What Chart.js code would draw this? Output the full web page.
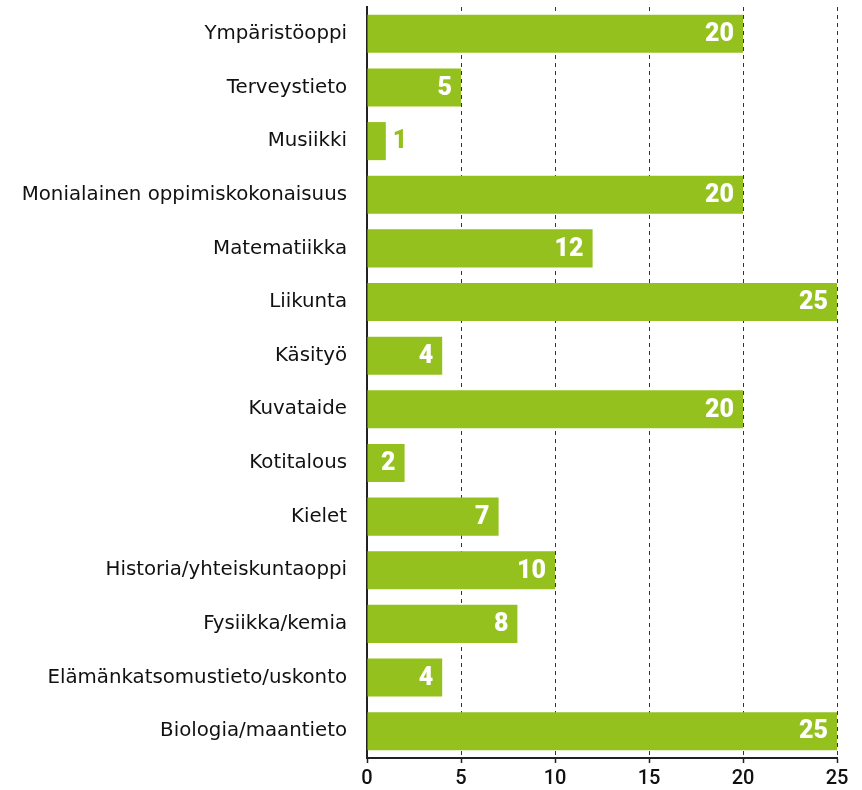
<!DOCTYPE html>
<html>
<head>
<meta charset="utf-8">
<script src="https://cdn.jsdelivr.net/npm/chart.js@4/dist/chart.umd.min.js"></script>
<style>
  html, body { margin: 0; padding: 0; background: #fff; }
</style>
</head>
<body>
<canvas id="myChart" width="862" height="790"></canvas>
<script>
// data, top to bottom
const categories = ['Ympäristöoppi', 'Terveystieto', 'Musiikki', 'Monialainen oppimiskokonaisuus',
    'Matematiikka', 'Liikunta', 'Käsityö', 'Kuvataide', 'Kotitalous', 'Kielet',
    'Historia/yhteiskuntaoppi', 'Fysiikka/kemia', 'Elämänkatsomustieto/uskonto', 'Biologia/maantieto'];
const values = [20, 5, 1, 20, 12, 25, 4, 20, 2, 7, 10, 8, 4, 25];
const xTicks = [0, 5, 10, 15, 20, 25];

const green = '#95c11f';

//value labels at bar end (outside when the bar is too short)
const barLabels = {
    id: 'barLabels',
    afterDatasetsDraw(chart) {
        const ctx = chart.ctx;
        const meta = chart.getDatasetMeta(0);
        ctx.save();
        ctx.font = '900 25px Roboto';
        ctx.textBaseline = 'middle';
        meta.data.forEach((bar, i) => {
            const txt = String(values[i]);
            const w = ctx.measureText(txt).width;
            const barW = bar.x - bar.base;
            if (w + 16 < barW) {
                ctx.fillStyle = '#fff';
                ctx.textAlign = 'right';
                ctx.fillText(txt, bar.x - 9, bar.y + 1);
            } else {
                ctx.fillStyle = green;
                ctx.textAlign = 'left';
                ctx.fillText(txt, bar.x + 7, bar.y + 1);
            }
        });
        ctx.restore();
    }
};

const ctx = document.getElementById('myChart').getContext('2d');
const myChart = new Chart(ctx, {
    type: 'bar',
    data: {
        labels: categories,
        datasets: [{
            data: values,
            backgroundColor: green,
            borderWidth: 0,
            barPercentage: 0.71,
            categoryPercentage: 1.0
        }]
    },
    options: {
        indexAxis: 'y',
        responsive: false,
        animation: false,
        layout: { padding: { top: 7, right: 25, left: 0, bottom: 0 } },
        plugins: {
            legend: { display: false },
            tooltip: { enabled: false }
        },
        scales: {
            x: {
                type: 'linear',
                min: xTicks[0],
                max: xTicks[xTicks.length - 1],
                afterBuildTicks: (scale) => { scale.ticks = xTicks.map(v => ({ value: v })); },
                afterFit: (scale) => {
                    scale.height = 32;
                    scale.paddingLeft = 0;
                    scale.paddingRight = 0;
                },
                grid: {
                    color: '#333',
                    lineWidth: 1,
                    tickLength: 5,
                    tickColor: '#222',
                    tickWidth: 1.5,
                    tickBorderDash: []
                },
                border: { display: true, color: '#222', width: 2, dash: [4, 4] },
                ticks: {
                    color: '#111',
                    padding: 4,
                    font: { family: 'Roboto', size: 20, weight: '500' }
                }
            },
            y: {
                afterFit: (scale) => {
                    scale.width = 367;
                    scale.paddingTop = 0;
                    scale.paddingBottom = 0;
                },
                grid: { display: false },
                border: { display: true, color: '#222', width: 2 },
                ticks: {
                    color: '#111',
                    padding: 12,
                    font: { family: 'DejaVu Sans', size: 19.8 }
                }
            }
        }
    },
    plugins: [barLabels]
});
</script>
</body>
</html>
